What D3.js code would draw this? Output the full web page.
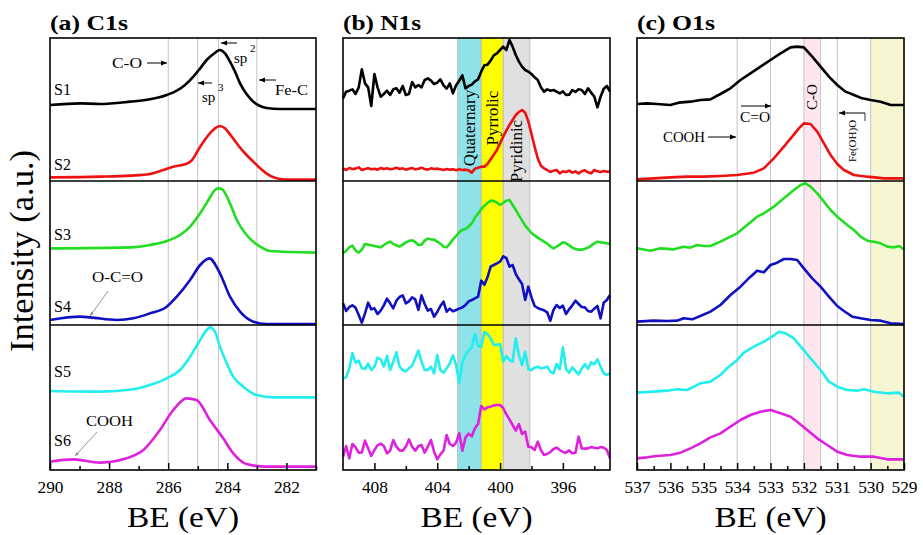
<!DOCTYPE html>
<meta charset="utf-8">
<style>
body { margin: 0; background: #fff; }
svg text { font-family: "Liberation Serif", "DejaVu Serif", serif; fill: #000; }
.curve { fill: none; stroke-width: 2.6; stroke-linejoin: round; }
</style>
<svg width="923" height="535" id="xps"></svg>
<script src="https://cdn.jsdelivr.net/npm/d3@7"></script>
<script>
// ---- (a) C1s ----
var c1sS1BE = [290, 288.98, 288.31, 287.29, 286.62, 286.05, 285.71, 285.43, 285.15, 284.92, 284.70, 284.47, 284.25, 284.08, 283.91, 283.74, 283.57, 283.35, 283.12, 282.89, 282.67, 282.22, 281.00];
var c1sS1 = [228, 233, 231, 238, 245, 258, 271, 288, 313, 338, 363, 381, 393, 383, 358, 328, 293, 261, 238, 225, 219, 216, 216];
var c1sS2BE = [290, 288.31, 287.29, 286.62, 286.17, 285.83, 285.43, 285.21, 284.92, 284.59, 284.42, 284.25, 284.08, 283.91, 283.74, 283.57, 283.35, 283.12, 282.89, 282.67, 282.44, 282.22, 281.88, 281.00];
var c1sS2 = [11, 13, 16, 21, 33, 43, 50, 61, 103, 143, 158, 165, 158, 140, 120, 100, 78, 58, 38, 22, 11, 6, 4, 4];
var c1sS3BE = [290, 287.29, 286.62, 286.05, 285.60, 285.26, 284.92, 284.64, 284.42, 284.31, 284.19, 283.91, 283.68, 283.35, 282.89, 282.56, 281.00];
var c1sS3 = [230, 233, 240, 252, 270, 295, 335, 375, 405, 410, 408, 365, 315, 270, 235, 222, 217];
var c1sS4BE = [290, 288.98, 288.65, 287.74, 287.18, 286.62, 286.05, 285.71, 285.26, 284.92, 284.61, 284.25, 283.91, 283.57, 283.12, 282.67, 281.00];
var c1sS4 = [15, 25, 23, 15, 20, 35, 55, 85, 135, 180, 200, 155, 85, 40, 10, 3, 3];
var c1sS5BE = [290, 288.31, 287.18, 286.62, 286.05, 285.60, 285.26, 284.92, 284.70, 284.59, 284.42, 284.25, 284.02, 283.80, 283.46, 283.01, 282.44, 281.00];
var c1sS5 = [237, 235, 242, 255, 275, 300, 340, 390, 420, 428, 415, 370, 320, 280, 250, 225, 218, 218];
var c1sS6BE = [290, 289.21, 288.31, 287.41, 286.84, 286.28, 285.83, 285.38, 285.04, 284.59, 284.14, 283.80, 283.35, 282.67, 281.00];
var c1sS6 = [25, 32, 22, 35, 60, 120, 180, 215, 210, 150, 95, 50, 18, 10, 10];
var c1sLines = [286, 285, 284.3, 283];

// ---- (b) N1s ----
var n1sBE = [410.0, 409.8, 409.6, 409.4, 409.2, 409.0, 408.8, 408.6, 408.4, 408.2,
  408.0, 407.8, 407.6, 407.4, 407.2, 407.0, 406.8, 406.6, 406.4, 406.2,
  406.0, 405.8, 405.6, 405.4, 405.2, 405.0, 404.8, 404.6, 404.4, 404.2,
  404.0, 403.8, 403.6, 403.4, 403.2, 403.0, 402.8, 402.6, 402.4, 402.2,
  402.0, 401.8, 401.6, 401.4, 401.2, 401.0, 400.8, 400.6, 400.4, 400.2,
  400.0, 399.8, 399.6, 399.4, 399.2, 399.0, 398.8, 398.6, 398.4, 398.2,
  398.0, 397.8, 397.6, 397.4, 397.2, 397.0, 396.8, 396.6, 396.4, 396.2,
  396.0, 395.8, 395.6, 395.4, 395.2, 395.0, 394.8, 394.6, 394.4, 394.2,
  394.0, 393.8, 393.6, 393.4, 393.2, 393.0];
var n1sS1 = [248, 268, 271, 275, 261, 281, 335, 293, 281, 225,
  321, 281, 253, 261, 271, 258, 275, 278, 265, 285,
  258, 261, 297, 281, 288, 281, 303, 308, 301, 291,
  295, 305, 287, 277, 293, 263, 287, 301, 317, 278,
  285, 289, 299, 305, 328, 347, 349, 361, 377, 383,
  393, 403, 393, 423, 403, 378, 358, 343, 333, 328,
  321, 311, 303, 281, 268, 275, 271, 273, 268, 263,
  269, 258, 259, 273, 267, 275, 273, 261, 278, 265,
  253, 221, 253, 277, 285, 268];
var n1sS2 = [38, 33, 39, 36, 37, 41, 33, 36, 38, 35,
  37, 34, 39, 36, 38, 35, 37, 40, 36, 38,
  34, 37, 39, 35, 37, 40, 36, 34, 38, 36,
  37, 35, 33, 36, 34, 35, 32, 35, 33, 34,
  32, 25, 37, 40, 43, 43, 51, 65, 79, 93,
  113, 133, 151, 168, 183, 198, 207, 213, 205, 178,
  141, 103, 68, 46, 38, 33, 27, 31, 33, 23,
  29, 27, 31, 25, 29, 23, 29, 32, 26, 23,
  33, 29, 27, 30, 28, 28];
var n1sS3 = [215, 223, 233, 238, 224, 217, 226, 243, 241, 239,
  237, 235, 233, 240, 246, 250, 243, 239, 235, 241,
  248, 252, 254, 249, 240, 241, 253, 259, 257, 256,
  250, 244, 235, 233, 244, 256, 267, 278, 286, 288,
  295, 305, 322, 334, 348, 358, 366, 373, 372, 367,
  360, 366, 373, 375, 360, 345, 329, 314, 298, 287,
  276, 269, 262, 256, 250, 244, 236, 230, 235, 241,
  248, 245, 239, 232, 228, 226, 226, 229, 232, 238,
  245, 250, 248, 247, 245, 243];
var n1sS4 = [65, 42, 54, 59, 52, 30, 7, 35, 67, 47,
  50, 33, 43, 59, 79, 65, 50, 73, 84, 89,
  65, 71, 83, 77, 45, 89, 63, 43, 48, 25,
  39, 57, 70, 40, 49, 41, 45, 49, 53, 60,
  71, 75, 80, 85, 133, 121, 143, 175, 180, 185,
  190, 206, 201, 175, 180, 153, 137, 123, 75, 115,
  83, 57, 51, 47, 44, 38, 13, 45, 60, 51,
  58, 33, 47, 59, 73, 63, 54, 53, 42, 40,
  49, 57, 20, 67, 75, 90];
var n1sS5 = [275, 279, 305, 350, 322, 328, 305, 303, 319, 300,
  310, 337, 332, 310, 342, 300, 325, 353, 310, 300,
  296, 305, 313, 335, 358, 325, 300, 300, 310, 290,
  345, 300, 292, 305, 320, 344, 315, 262, 322, 345,
  358, 368, 408, 372, 370, 414, 408, 395, 375, 376,
  378, 325, 342, 330, 325, 395, 345, 315, 355, 302,
  300, 307, 310, 305, 307, 310, 295, 290, 318, 302,
  368, 303, 292, 308, 297, 287, 304, 318, 304, 323,
  317, 332, 310, 290, 285, 290];
var n1sS6 = [40, 72, 35, 78, 68, 52, 53, 88, 65, 42,
  60, 74, 79, 72, 50, 58, 90, 70, 59, 58,
  70, 92, 70, 58, 72, 75, 52, 70, 90, 55,
  32, 47, 58, 105, 78, 72, 82, 110, 58, 98,
  109, 101, 125, 138, 192, 182, 188, 190, 194, 195,
  195, 186, 167, 152, 135, 118, 138, 108, 115, 70,
  68, 60, 85, 60, 45, 48, 54, 63, 67, 60,
  54, 52, 59, 50, 52, 100, 65, 64, 65, 69,
  67, 65, 69, 67, 60, 35];
var n1sBandNames = ["Quaternary", "Pyrrolic", "Pyridinic"];
var n1sBandFrom = [402.7, 401.2, 399.8];
var n1sBandTo = [401.2, 399.8, 398.1];

// ---- (c) O1s ----
var o1sS1BE = [537.00, 536.70, 536.40, 536.00, 535.75, 535.40, 535.10, 534.80, 534.50, 534.20, 533.90, 533.60, 533.30, 533.00, 532.70, 532.40, 532.20, 532.00, 531.75, 531.50, 531.25, 531.00, 530.75, 530.50, 530.25, 530.00, 529.70, 529.40, 529.00];
var o1sS1 = [231, 233, 231, 228, 235, 238, 243, 245, 261, 278, 303, 323, 343, 363, 383, 401, 403, 401, 373, 343, 313, 288, 268, 258, 248, 243, 238, 228, 228];
var o1sS2BE = [537.0, 536.5, 536.0, 535.5, 535.0, 534.5, 534.0, 533.5, 533.2, 532.9, 532.6, 532.35, 532.15, 532.0, 531.8, 531.6, 531.4, 531.2, 531.0, 530.8, 530.5, 530.1, 529.6, 529.0];
var o1sS2 = [5, 8, 11, 13, 13, 15, 18, 25, 38, 68, 103, 133, 158, 173, 171, 148, 113, 78, 51, 33, 18, 13, 8, 8];
var o1sS3BE = [537.0, 536.6, 536.3, 535.9, 535.6, 535.4, 535.2, 535.0, 534.8, 534.5, 534.2, 534.0, 533.7, 533.4, 533.2, 532.9, 532.6, 532.3, 532.1, 531.95, 531.8, 531.6, 531.4, 531.2, 531.0, 530.7, 530.5, 530.3, 530.1, 529.9, 529.7, 529.5, 529.3, 529.15, 529.0];
var o1sS3 = [230, 223, 230, 227, 235, 232, 240, 237, 237, 250, 265, 275, 300, 325, 335, 355, 380, 405, 420, 425, 415, 395, 370, 345, 325, 300, 285, 265, 253, 250, 245, 235, 233, 237, 227];
var o1sS4BE = [537.0, 536.5, 536.1, 535.8, 535.6, 535.35, 535.1, 534.8, 534.5, 534.2, 533.9, 533.6, 533.4, 533.2, 533.0, 532.8, 532.6, 532.4, 532.2, 532.0, 531.75, 531.5, 531.25, 531.0, 530.8, 530.55, 530.3, 530.0, 529.7, 529.4, 529.0];
var o1sS4 = [10, 13, 12, 13, 20, 17, 27, 40, 60, 90, 115, 145, 163, 158, 180, 187, 198, 198, 195, 170, 140, 115, 85, 57, 42, 25, 20, 15, 13, 5, 3];
var o1sS5BE = [537.0, 536.5, 536.1, 535.8, 535.5, 535.3, 535.1, 534.8, 534.5, 534.3, 534.0, 533.8, 533.5, 533.2, 532.95, 532.75, 532.55, 532.3, 532.05, 531.8, 531.5, 531.25, 531.0, 530.7, 530.4, 530.2, 529.9, 529.5, 529.15, 529.0];
var o1sS5 = [232, 235, 238, 242, 240, 250, 260, 265, 285, 305, 330, 352, 370, 385, 400, 415, 410, 395, 365, 335, 300, 265, 250, 240, 238, 242, 235, 230, 232, 220];
var o1sS6BE = [537.0, 536.7, 536.4, 536.0, 535.7, 535.4, 535.1, 534.8, 534.5, 534.2, 533.9, 533.6, 533.3, 533.0, 532.7, 532.4, 532.2, 531.9, 531.6, 531.3, 531.0, 530.7, 530.3, 529.9, 529.5, 529.0];
var o1sS6 = [35, 38, 42, 45, 52, 65, 80, 98, 110, 130, 150, 165, 175, 180, 170, 160, 145, 120, 95, 75, 55, 45, 40, 40, 32, 32];
var o1sLines = [534, 533, 532, 531.5, 531, 530];
var o1sBand = [532, 531.5];   // C-O
var o1sBand2 = [530, 529];

var sampleNames = ["S1", "S2", "S3", "S4", "S5", "S6"];
var colors = ["#000000", "#ee1111", "#22dd22", "#1010c0", "#22eeee", "#dd22dd"];
var bandColors = ["#8fe3e8", "#ffff00", "#e0e0e0"];

var svg = d3.select("#xps");
var rows = [[38, 181], [181, 325], [325, 470]];
var font = '"Liberation Serif", "DejaVu Serif", serif';

svg.append("defs").append("marker")
    .attr("id", "ah").attr("viewBox", "0 0 10 10")
    .attr("refX", 10).attr("refY", 5)
    .attr("markerWidth", 9).attr("markerHeight", 6)
    .attr("markerUnits", "userSpaceOnUse").attr("orient", "auto")
  .append("path").attr("d", "M0,1L10,5L0,9z").attr("fill", "#000");
svg.select("defs").append("marker")
    .attr("id", "ahg").attr("viewBox", "0 0 10 10")
    .attr("refX", 10).attr("refY", 5)
    .attr("markerWidth", 6).attr("markerHeight", 4)
    .attr("markerUnits", "userSpaceOnUse").attr("orient", "auto")
  .append("path").attr("d", "M0,1L10,5L0,9z").attr("fill", "#888");

var panels = [
  {title: "(a) C1s", left: 50, right: 316, domain: [290, 281],
   major: [290, 288, 286, 284, 282], minor: [289, 287, 285, 283, 281],
   curve: d3.curveMonotoneX,
   series: [[c1sS1BE, c1sS1], [c1sS2BE, c1sS2], [c1sS3BE, c1sS3], [c1sS4BE, c1sS4], [c1sS5BE, c1sS5], [c1sS6BE, c1sS6]]},
  {title: "(b) N1s", left: 343, right: 610, domain: [410, 393],
   major: [408, 404, 400, 396], minor: [406, 402, 398, 394],
   curve: d3.curveLinear,
   series: [[n1sBE, n1sS1], [n1sBE, n1sS2], [n1sBE, n1sS3], [n1sBE, n1sS4], [n1sBE, n1sS5], [n1sBE, n1sS6]]},
  {title: "(c) O1s", left: 637, right: 904, domain: [537, 529],
   major: [537, 536, 535, 534, 533, 532, 531, 530, 529], minor: [536.5, 535.5, 534.5, 533.5, 532.5, 531.5, 530.5, 529.5],
   curve: d3.curveLinear,
   series: [[o1sS1BE, o1sS1], [o1sS2BE, o1sS2], [o1sS3BE, o1sS3], [o1sS4BE, o1sS4], [o1sS5BE, o1sS5], [o1sS6BE, o1sS6]]}
];

var xs = [];
panels.forEach(function(p, pi) {
  var x = d3.scaleLinear().domain(p.domain).range([p.left, p.right]);
  xs.push(x);
  var top = rows[0][0], bottom = rows[2][1];
  var g = svg.append("g");

  if (pi == 1) {
    n1sBandNames.forEach(function(name, i) {
      g.append("rect")
        .attr("x", x(n1sBandFrom[i])).attr("y", top)
        .attr("width", x(n1sBandTo[i]) - x(n1sBandFrom[i])).attr("height", bottom - top)
        .attr("fill", bandColors[i]).attr("stroke", "#b8b8b8").attr("stroke-width", 0.8);
    });
  }
  if (pi == 2) {
    g.append("rect").attr("x", x(o1sBand[0])).attr("y", top)
      .attr("width", x(o1sBand[1]) - x(o1sBand[0])).attr("height", bottom - top)
      .attr("fill", "#fde6ee");
    g.append("rect").attr("x", x(o1sBand2[0])).attr("y", top)
      .attr("width", x(o1sBand2[1]) - x(o1sBand2[0])).attr("height", bottom - top)
      .attr("fill", "#f6f6d2");
  }
  var guides = pi == 0 ? c1sLines : (pi == 2 ? o1sLines : []);
  g.selectAll("line.guide").data(guides).enter().append("line")
    .attr("class", "guide")
    .attr("x1", d => x(d)).attr("x2", d => x(d))
    .attr("y1", top).attr("y2", bottom)
    .attr("stroke", "#c4c4c4").attr("stroke-width", 1);

  // curves, two per row
  p.series.forEach(function(s, si) {
    var r = rows[Math.floor(si / 2)];
    var y = d3.scaleLinear().domain([0, 3 * (r[1] - r[0])]).range([r[1], r[0]]);
    var pts = s[0].map((be, i) => [be, s[1][i]]);
    var line = d3.line().x(d => x(d[0])).y(d => y(d[1])).curve(p.curve);
    g.append("path").attr("class", "curve")
      .attr("d", line(pts)).attr("stroke", colors[si]);
  });

  // frame + dividers
  g.append("rect").attr("x", p.left).attr("y", top)
    .attr("width", p.right - p.left).attr("height", bottom - top)
    .attr("fill", "none").attr("stroke", "#000").attr("stroke-width", 1.6);
  [rows[0][1], rows[1][1]].forEach(function(yy) {
    g.append("line").attr("x1", p.left).attr("x2", p.right)
      .attr("y1", yy).attr("y2", yy).attr("stroke", "#000").attr("stroke-width", 1.6);
  });

  // axes
  var ax = g.append("g").attr("transform", "translate(0," + bottom + ")")
    .call(d3.axisBottom(x).tickValues(p.major).tickSize(-7).tickPadding(12).tickFormat(d3.format("d")));
  ax.select(".domain").remove();
  ax.selectAll(".tick line").attr("stroke-width", 1.5);
  ax.selectAll(".tick text").attr("font-size", 16).attr("font-family", font)
    .attr("textLength", 26).attr("lengthAdjust", "spacingAndGlyphs");
  var mx = g.append("g").attr("transform", "translate(0," + bottom + ")")
    .call(d3.axisBottom(x).tickValues(p.minor).tickSize(-4).tickFormat(""));
  mx.select(".domain").remove();
  mx.selectAll(".tick line").attr("stroke-width", 1.5);

  // titles
  svg.append("text").attr("x", p.left).attr("y", 30)
    .attr("font-size", 22).attr("font-weight", "bold")
    .attr("textLength", 78).attr("lengthAdjust", "spacingAndGlyphs")
    .text(p.title);
  svg.append("text").attr("x", (p.left + p.right) / 2).attr("y", 527)
    .attr("text-anchor", "middle").attr("font-size", 30)
    .attr("textLength", 112).attr("lengthAdjust", "spacingAndGlyphs")
    .text("BE (eV)");
});

// y label
svg.append("text")
  .attr("transform", "translate(33,251) rotate(-90)")
  .attr("text-anchor", "middle").attr("font-size", 33)
  .attr("textLength", 202).attr("lengthAdjust", "spacingAndGlyphs")
  .text("Intensity (a.u.)");

// sample labels
var sampleY = [95, 170, 240, 312, 377, 446];
sampleNames.forEach(function(n, i) {
  svg.append("text").attr("x", 54).attr("y", sampleY[i])
    .attr("font-size", 16).text(n);
});

function label(txt, xx, yy, size, len) {
  var t = svg.append("text").attr("x", xx).attr("y", yy).attr("font-size", size).text(txt);
  if (len) t.attr("textLength", len).attr("lengthAdjust", "spacingAndGlyphs");
  return t;
}
function arrow(x1, y1, x2, y2, grey) {
  svg.append("line").attr("x1", x1).attr("y1", y1).attr("x2", x2).attr("y2", y2)
    .attr("stroke", grey ? "#888" : "#000").attr("stroke-width", grey ? 0.9 : 1)
    .attr("marker-end", grey ? "url(#ahg)" : "url(#ah)");
}

// (a) annotations
label("C-O", 112, 68, 15, 30);
arrow(147, 63, 167, 63);
label("sp", 234, 63, 15);
label("2", 250, 52, 11);
arrow(237, 43, 221, 43);
label("sp", 202, 102, 15);
label("3", 218, 91, 11);
arrow(212, 83, 198, 83);
label("Fe-C", 275, 95, 15, 33);
arrow(276, 80, 259, 80);
label("O-C=O", 92, 282, 15, 51);
arrow(108, 291, 90, 316, true);
label("COOH", 86, 426, 15, 47);
arrow(97, 432, 75, 456, true);

// (b) band labels
n1sBandNames.forEach(function(name, i) {
  var cx = xs[1]((n1sBandFrom[i] + n1sBandTo[i]) / 2);
  var cy = [128, 118, 151][i];
  svg.append("text")
    .attr("transform", "translate(" + cx + "," + cy + ") rotate(-90)")
    .attr("text-anchor", "middle").attr("dominant-baseline", "central")
    .attr("font-size", 17).text(name);
});

// (c) annotations
label("C=O", 740, 122, 15, 30);
arrow(741, 106, 771, 106);
label("COOH", 663, 142, 15, 42);
arrow(708, 137, 736, 137);
svg.append("text")
  .attr("transform", "translate(" + xs[2](531.75) + ",97) rotate(-90)")
  .attr("text-anchor", "middle").attr("dominant-baseline", "central")
  .attr("font-size", 15).text("C-O");
svg.append("text")
  .attr("transform", "translate(852,141) rotate(-90)")
  .attr("text-anchor", "middle").attr("dominant-baseline", "central")
  .attr("font-size", 11).text("Fe(OH)O");
arrow(865, 113, 839, 113);
svg.append("line").attr("x1", 865).attr("x2", 865).attr("y1", 113).attr("y2", 121)
  .attr("stroke", "#000").attr("stroke-width", 0.8);
</script>
